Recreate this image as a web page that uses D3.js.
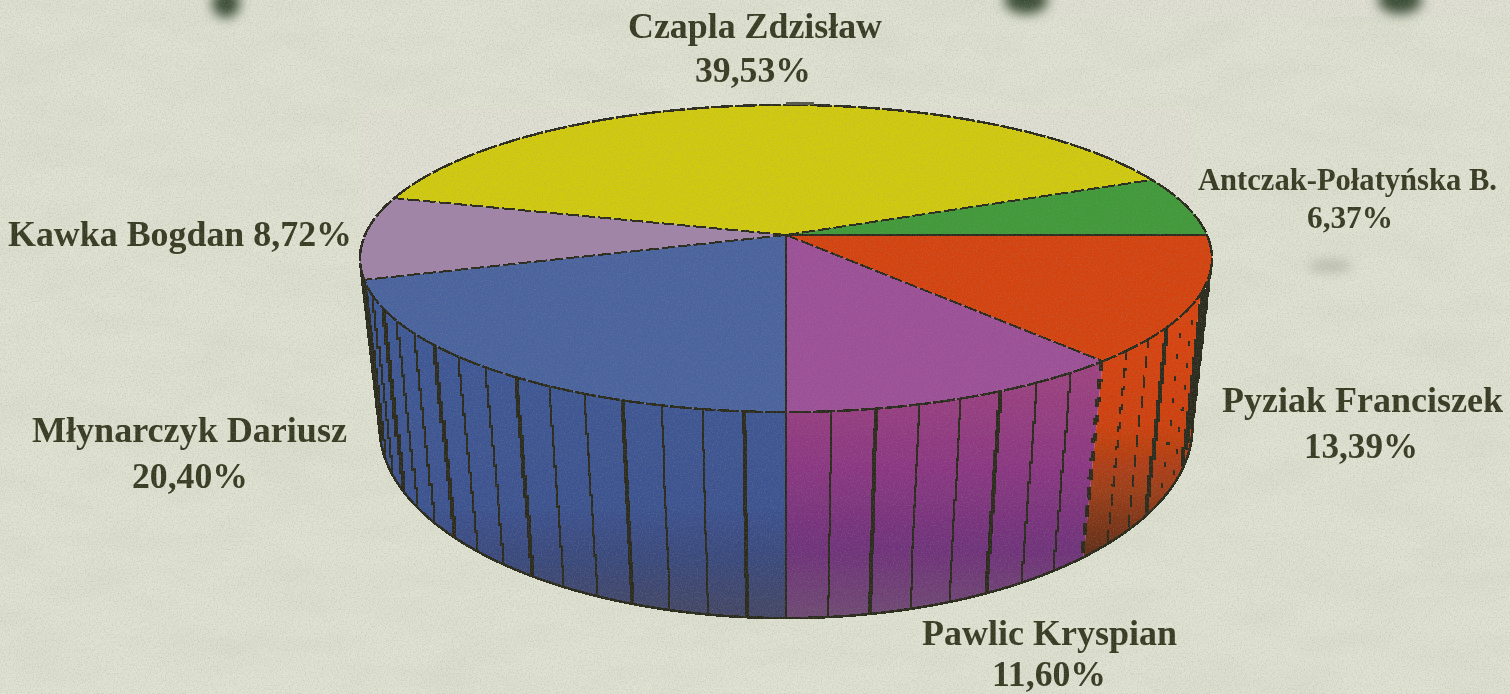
<!DOCTYPE html>
<html>
<head>
<meta charset="utf-8">
<script src="https://d3js.org/d3.v7.min.js"></script>
<style>
  html, body { margin: 0; padding: 0; background: #e0e2d3; overflow: hidden; }
  text { font-family: "Liberation Serif", serif; font-weight: bold; fill: #383a22; }
</style>
</head>
<body>
<div id="chart"></div>
<script>
// data, clockwise from the right hand side
const names = ['Pyziak Franciszek', 'Pawlic Kryspian', 'Młynarczyk Dariusz', 'Kawka Bogdan', 'Czapla Zdzisław', 'Antczak-Połatyńska B.'];
const shares = [13.39, 11.60, 20.40, 8.72, 39.53, 6.37];

// styles
const topColors = ['#d5420f', '#9d4f97', '#4a639f', '#a184a8', '#d2cb0c', '#3f9a37'];
const sideStops = [
  [['#d8430d', 0], ['#cf400f', 0.3], ['#9a3c14', 0.55], ['#5c2c18', 0.78], ['#4e2818', 1]],
  [['#a3457f', 0], ['#8c3682', 0.45], ['#6f317a', 0.75], ['#6e4a72', 1]],
  [['#3e5896', 0], ['#3b5290', 0.6], ['#39487a', 0.8], ['#444563', 1]],
  null, null, null
];
const ribColor = '#2a2b1c';
// red side ribs break up in the print, listed from the outside in
const redRibDash = [null, '10 6', null, '10 10', null, '5 19', '5 19', null, '12 10', '12 8'];

// label placement
const labelLayout = [
  {lines: [{x: 1222, y: 412, w: 281}, {x: 1361, y: 458, w: 114, mid: true}], size: 35},
  {lines: [{x: 922, y: 645, w: 255}, {x: 1049, y: 686, w: 114, mid: true}], size: 35},
  {lines: [{x: 32, y: 442, w: 315}, {x: 190, y: 488, w: 116, mid: true}], size: 35},
  {lines: [{x: 8, y: 246, w: 344, inline: true}], size: 35},
  {lines: [{x: 755, y: 38, w: 254, mid: true}, {x: 753, y: 82, w: 116, mid: true}], size: 36},
  {lines: [{x: 1198, y: 190, w: 299}, {x: 1350, y: 228, w: 86, mid: true}], size: 31}
];

const width = 1510, height = 694;

const svg = d3.select('#chart').append('svg')
  .attr('width', width)
  .attr('height', height);

const defs = svg.append('defs');

// paper texture
const blotch = defs.append('filter').attr('id', 'blotch').attr('x', 0).attr('y', 0).attr('width', 1).attr('height', 1);
blotch.append('feTurbulence').attr('type', 'fractalNoise').attr('baseFrequency', '0.012 0.03').attr('numOctaves', 4).attr('seed', 7);
blotch.append('feColorMatrix').attr('type', 'matrix').attr('values', '0 0 0 0 0.55  0 0 0 0 0.57  0 0 0 0 0.48  1.6 0 0 0 -0.62');

const grain = defs.append('filter').attr('id', 'grain').attr('x', 0).attr('y', 0).attr('width', 1).attr('height', 1);
grain.append('feTurbulence').attr('type', 'fractalNoise').attr('baseFrequency', 0.75).attr('numOctaves', 2).attr('seed', 3);
grain.append('feColorMatrix').attr('type', 'matrix').attr('values', '0 0 0 0 0.3  0 0 0 0 0.3  0 0 0 0 0.3  2.2 0 0 0 -0.95');

const soft = defs.append('filter').attr('id', 'soft');
soft.append('feGaussianBlur').attr('stdDeviation', 0.55);
const softer = defs.append('filter').attr('id', 'softer').attr('x', '-80%').attr('y', '-80%').attr('width', '260%').attr('height', '260%');
softer.append('feGaussianBlur').attr('stdDeviation', 6);

svg.append('rect').attr('width', width).attr('height', height).attr('fill', '#e0e3d2');
svg.append('rect').attr('width', width).attr('height', height).attr('filter', 'url(#blotch)').attr('opacity', 0.22);
// pasted-in bits of scan with a lighter, rougher tone
svg.append('rect').attr('x', 360).attr('y', 107).attr('width', 834).attr('height', 180).attr('fill', '#e0e0d4');
svg.append('rect').attr('x', 1054).attr('y', 0).attr('width', 456).attr('height', 17).attr('fill', '#e0e0d4');

// punch holes and smudges along the top edge
const smudges = svg.append('g').attr('filter', 'url(#softer)').attr('fill', '#3a4e36');
smudges.append('ellipse').attr('cx', 226).attr('cy', 3).attr('rx', 14).attr('ry', 15);
smudges.append('ellipse').attr('cx', 1026).attr('cy', 0).attr('rx', 22).attr('ry', 14);
smudges.append('ellipse').attr('cx', 1400).attr('cy', 0).attr('rx', 22).attr('ry', 14);
svg.append('ellipse').attr('cx', 1330).attr('cy', 266).attr('rx', 22).attr('ry', 6).attr('fill', '#b9bcaa').attr('filter', 'url(#softer)');

// the disc is a circle seen in perspective, one scale pair per face
function face(cx, cy, rx, ry, k) {
  const x = d3.scaleLinear().domain([-1, 1]).range([cx - rx, cx + rx]);
  const y = d3.scaleLinear().domain([-1, 1]).range([cy - ry, cy + ry]);
  return a => {
    const u = Math.sin(a), v = -Math.cos(a);
    const w = 1 - k * v;
    return [x(u / w), y(v / w)];
  };
}
const topFace = face(786, 235, 421, 150, 0.153);
const bottomFace = face(786, 402, 403, 188, 0.13);
const apex = [786, 235];

const arcs = d3.pie().sort(null).startAngle(Math.PI / 2).endAngle(Math.PI * 2.5)(shares);

const line = d3.line();
const stepLine = d3.line().curve(d3.curveStepAfter);
const deg = Math.PI / 180;
const sample = (a0, a1) => d3.range(0, 1.0001, 1 / Math.max(2, Math.ceil((a1 - a0) / deg))).map(t => a0 + (a1 - a0) * t);

// gradient per visible side colour
sideStops.forEach((stops, i) => {
  if (!stops) return;
  const g = defs.append('linearGradient').attr('id', 'side' + i)
    .attr('gradientUnits', 'userSpaceOnUse')
    .attr('x1', 0).attr('x2', 0).attr('y1', 340).attr('y2', 620);
  g.selectAll('stop').data(stops).join('stop')
    .attr('offset', d => d[1])
    .attr('stop-color', d => d[0]);
});

const pie = svg.append('g').attr('filter', 'url(#soft)');

// side walls, only the front is visible, blue runs on up to the silhouette
const sides = arcs.slice(0, 3).map((d, i) => {
  const n = Math.round((d.endAngle - d.startAngle) / (5 * deg));
  return {
    i: i,
    a0: d.startAngle,
    a1: i === 2 ? d.endAngle + 8 * deg : d.endAngle,
    ribs: n,
    start: d.startAngle,
    step: (d.endAngle - d.startAngle) / n
  };
});

// one small quad per degree, a single outline goes concave at the silhouette
pie.selectAll('path.side').data(sides).join('path')
  .attr('class', 'side')
  .attr('fill', d => `url(#side${d.i})`)
  .attr('d', d => {
    const as = sample(d.a0, d.a1);
    return d3.pairs(as).map(p => line([topFace(p[0]), topFace(p[1]), bottomFace(p[1]), bottomFace(p[0])]) + 'Z').join('');
  });

// ribs, stair-stepped like the low resolution original
const ribs = sides.flatMap(s => {
  const extra = s.i === 2 ? 2 : 0;
  return d3.range(s.i === 0 ? 1 : 0, s.ribs + extra).map(j => ({
    a: s.start + j * s.step,
    dash: s.i === 0 ? redRibDash[j] : (s.i === 1 && j === 0 ? '12 8' : null)
  }));
});

function ribPath(a) {
  const p0 = topFace(a), p1 = bottomFace(a);
  const pts = d3.range(0, 1.0001, 1 / 10).map(t => [
    Math.round(p0[0] + (p1[0] - p0[0]) * t),
    p0[1] + (p1[1] - p0[1]) * t
  ]);
  return stepLine(pts);
}

pie.selectAll('path.rib').data(ribs).join('path')
  .attr('class', 'rib')
  .attr('d', d => ribPath(d.a))
  .attr('fill', 'none')
  .attr('stroke', ribColor)
  .attr('stroke-width', (d, i) => i % 3 === 0 ? 3.2 : 2.6)
  .attr('stroke-dasharray', d => d.dash)
  .attr('shape-rendering', 'crispEdges');

// bottom rim
const bottomArc = sample(arcs[0].startAngle, arcs[2].endAngle + 8 * deg);
pie.append('path')
  .attr('d', line(bottomArc.map(bottomFace)))
  .attr('fill', 'none')
  .attr('stroke', ribColor)
  .attr('stroke-width', 2.6)
  .attr('shape-rendering', 'crispEdges');

// silhouette on the left and the right
[arcs[0].startAngle + 8 * deg, arcs[2].endAngle + 8 * deg].forEach(a => {
  pie.append('path')
    .attr('d', ribPath(a))
    .attr('fill', 'none')
    .attr('stroke', ribColor)
    .attr('stroke-width', 3.2)
    .attr('shape-rendering', 'crispEdges');
});

// top face
pie.selectAll('path.slice').data(arcs).join('path')
  .attr('class', 'slice')
  .attr('fill', (d, i) => topColors[i])
  .attr('d', d => line([apex].concat(sample(d.startAngle, d.endAngle).map(topFace))) + 'Z');

// rim of the top face
pie.append('path')
  .attr('d', line(sample(0, Math.PI * 2).map(topFace)) + 'Z')
  .attr('fill', 'none')
  .attr('stroke', ribColor)
  .attr('stroke-width', 2.4)
  .attr('stroke-dasharray', '22 2')
  .attr('shape-rendering', 'crispEdges');

// the little bar on top of the rim
pie.append('rect').attr('x', 786).attr('y', 102).attr('width', 28).attr('height', 3).attr('fill', '#55564a');

// spokes, the sloped ones print broken
pie.selectAll('line.spoke').data(arcs).join('line')
  .attr('class', 'spoke')
  .attr('x1', apex[0])
  .attr('y1', apex[1])
  .attr('x2', d => topFace(d.startAngle)[0])
  .attr('y2', d => topFace(d.startAngle)[1])
  .attr('stroke', ribColor)
  .attr('stroke-width', 2)
  .attr('stroke-dasharray', (d, i) => (i === 0 || i === 2) ? null : '13 3')
  .attr('shape-rendering', 'crispEdges');

// labels
const pct = v => d3.format('.2f')(v).replace('.', ',') + '%';
const labelRows = labelLayout.flatMap((l, i) => {
  const label = l.lines[0].inline
    ? [names[i] + ' ' + pct(shares[i])]
    : [names[i], pct(shares[i])];
  return l.lines.map((p, j) => ({text: label[j], size: l.size, p: p}));
});

svg.append('g').attr('filter', 'url(#soft)').selectAll('text').data(labelRows).join('text')
  .attr('x', d => d.p.x)
  .attr('y', d => d.p.y)
  .attr('text-anchor', d => d.p.mid ? 'middle' : 'start')
  .attr('font-size', d => d.size)
  .attr('textLength', d => d.p.w)
  .attr('lengthAdjust', 'spacingAndGlyphs')
  .text(d => d.text);

// print grain over everything
svg.append('rect').attr('width', width).attr('height', height).attr('filter', 'url(#grain)').attr('opacity', 0.3).attr('pointer-events', 'none');
</script>
</body>
</html>
